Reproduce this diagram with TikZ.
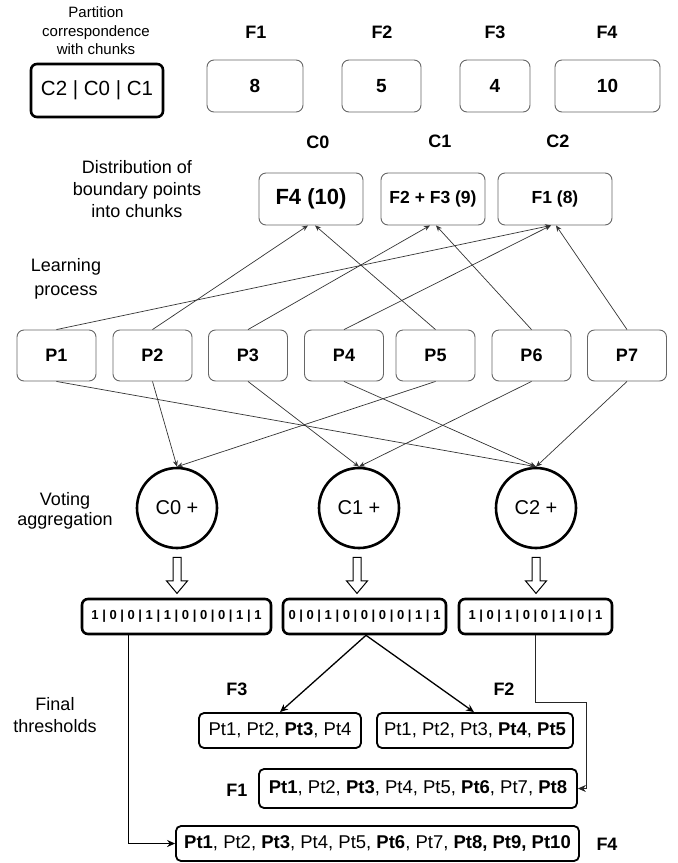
\documentclass[tikz,border=0pt]{standalone}
\usepackage{fontspec}
\setmainfont{Liberation Sans}
\usetikzlibrary{arrows.meta,calc,shapes.arrows}
\begin{document}
\begin{tikzpicture}[x=1pt,y=-1pt,
  thinbox/.style={draw=black!60, line width=0.9pt, rounded corners=7pt, inner sep=0pt, font=\fontsize{18}{21}\selectfont\bfseries},
  thickbox/.style={draw=black, line width=2.6pt, rounded corners=6pt, inner sep=0pt},
  ptbox/.style={draw=black, line width=1.8pt, rounded corners=5pt, inner sep=0pt, minimum height=35pt, font=\fontsize{18.5}{21}\selectfont},
  bitbox/.style={draw=black, line width=2.6pt, rounded corners=6pt, inner sep=0pt, minimum height=35pt, font=\fontsize{13}{15}\selectfont\bfseries},
  lbl/.style={font=\fontsize{18}{21}\selectfont\bfseries, inner sep=0pt},
  side/.style={font=\fontsize{18}{22}\selectfont, align=center, inner sep=0pt},
  circ/.style={draw=black, line width=2.6pt, circle, minimum size=80pt, inner sep=0pt, font=\fontsize{20}{24}\selectfont},
  pbox/.style={thinbox, minimum width=79pt, minimum height=51pt},
  conn/.style={draw=black!80, line width=0.7pt, -{Stealth[length=6pt,width=5pt]}},
  conn2/.style={draw=black, line width=1.3pt, -{Stealth[length=8pt,width=7pt]}},
  hollow/.style={single arrow, draw=black, line width=1pt, shape border rotate=270, minimum height=36pt, inner sep=3.5pt, single arrow head extend=6.5pt, single arrow tip angle=80}
]
\useasboundingbox (0,0) rectangle (678,863);

% top row
\node[side, font=\fontsize{15}{18.5}\selectfont] (title) at (96,31) {Partition\\correspondence\\with chunks};
\node[thickbox, minimum width=132pt, minimum height=53pt, font=\fontsize{20.5}{24}\selectfont] (cbox) at (97,90.5) {C2 | C0 | C1};

\node[lbl] (lf1) at (256,32) {F1};
\node[lbl] (lf2) at (382,32) {F2};
\node[lbl] (lf3) at (495,32) {F3};
\node[lbl] (lf4) at (607,32) {F4};

\node[thinbox, minimum width=96pt, minimum height=52pt, font=\fontsize{19}{22}\selectfont\bfseries] (f1) at (255,86) {8};
\node[thinbox, minimum width=79pt, minimum height=52pt, font=\fontsize{19}{22}\selectfont\bfseries] (f2) at (381.5,86) {5};
\node[thinbox, minimum width=70pt, minimum height=52pt, font=\fontsize{19}{22}\selectfont\bfseries] (f3) at (495,86) {4};
\node[thinbox, minimum width=105pt, minimum height=52pt, font=\fontsize{19}{22}\selectfont\bfseries] (f4) at (607.5,86) {10};

% chunks
\node[lbl] (lc0) at (318,142) {C0};
\node[lbl] (lc1) at (440,141) {C1};
\node[lbl] (lc2) at (558,141) {C2};

\node[side] (dist) at (137,189) {Distribution of\\boundary points\\into chunks};

\node[thinbox, minimum width=104pt, minimum height=52pt, font=\fontsize{22}{25}\selectfont\bfseries] (ch0) at (311,199) {F4 (10)};
\node[thinbox, minimum width=104pt, minimum height=52pt, font=\fontsize{17.5}{21}\selectfont\bfseries] (ch1) at (433,199) {F2 + F3 (9)};
\node[thinbox, minimum width=114pt, minimum height=52pt, font=\fontsize{17.5}{21}\selectfont\bfseries] (ch2) at (555,199) {F1 (8)};

\node[side, font=\fontsize{18}{24}\selectfont] (learn) at (66,279) {Learning\\process};

% processes
\node[pbox] (p1) at (56.5,355.5) {P1};
\node[pbox] (p2) at (152.5,355.5) {P2};
\node[pbox] (p3) at (248,355.5) {P3};
\node[pbox] (p4) at (344,355.5) {P4};
\node[pbox] (p5) at (435.5,355.5) {P5};
\node[pbox] (p6) at (531.5,355.5) {P6};
\node[pbox] (p7) at (627,355.5) {P7};

\draw[conn] (p1.north) -- ($(ch2.south)+(-4,0)$);
\draw[conn] (p2.north) -- ($(ch0.south)+(-3,0)$);
\draw[conn] (p3.north) -- ($(ch1.south)+(-3,0)$);
\draw[conn] (p4.north) -- ($(ch2.south)+(-4,0)$);
\draw[conn] (p5.north) -- ($(ch0.south)+(4,0)$);
\draw[conn] (p6.north) -- ($(ch1.south)+(3,0)$);
\draw[conn] (p7.north) -- ($(ch2.south)+(1,0)$);

% voting
\node[circ] (c0) at (177,508) {C0 +};
\node[circ] (c1) at (359,508) {C1 +};
\node[circ] (c2) at (536,508) {C2 +};
\node[side, font=\fontsize{18}{20}\selectfont] (vote) at (65,511) {Voting\\aggregation};

\draw[conn] (p1.south) -- (c2.north);
\draw[conn] (p2.south) -- (c0.north);
\draw[conn] (p3.south) -- (c1.north);
\draw[conn] (p4.south) -- (c2.north);
\draw[conn] (p5.south) -- (c0.north);
\draw[conn] (p6.south) -- (c1.north);
\draw[conn] (p7.south) -- (c2.north);

\node[hollow] (h0) at (177,573) {};
\node[hollow] (h1) at (357,573) {};
\node[hollow] (h2) at (536,573) {};

% bit vectors
\node[bitbox, minimum width=189pt] (b1) at (176.5,616.5) {1 | 0 | 0 | 1 | 1 | 0 | 0 | 0 | 1 | 1};
\node[bitbox, minimum width=163pt] (b2) at (364.5,616.5) {0 | 0 | 1 | 0 | 0 | 0 | 0 | 1 | 1};
\node[bitbox, minimum width=153pt] (b3) at (535.5,616.5) {1 | 0 | 1 | 0 | 0 | 1 | 0 | 1};

% final thresholds
\node[side] (final) at (55,715) {Final\\thresholds};

\node[lbl] (lq3) at (237,689) {F3};
\node[lbl] (lq2) at (504,689) {F2};
\node[lbl] (lq1) at (237,790) {F1};
\node[lbl] (lq4) at (607,844) {F4};

\node[ptbox, minimum width=162pt] (q3) at (280,730.5) {Pt1, Pt2, \textbf{Pt3}, Pt4};
\node[ptbox, minimum width=196pt] (q2) at (475,730.5) {Pt1, Pt2, Pt3, \textbf{Pt4}, \textbf{Pt5}};
\node[ptbox, minimum width=318pt, minimum height=39pt] (q1) at (418,788.5) {\textbf{Pt1}, Pt2, \textbf{Pt3}, Pt4, Pt5, \textbf{Pt6}, Pt7, \textbf{Pt8}};
\node[ptbox, minimum width=403pt] (q4) at (377.5,843.5) {\textbf{Pt1}, Pt2, \textbf{Pt3}, Pt4, Pt5, \textbf{Pt6}, Pt7, \textbf{Pt8, Pt9, Pt10}};

\draw[conn2] ($(b1.south west)+(48,0)$) |- (q4.west);
\draw[conn2] ($(b2.south)+(1.5,0)$) -- (q3.north);
\draw[conn2] ($(b2.south)+(1.5,0)$) -- ($(q2.north)+(-1,0)$);
\coordinate (bend) at (586,702);
\draw[conn2, line width=1pt, draw=black!85] (b3.south) |- (bend) |- (q1.east);
\end{tikzpicture}
\end{document}
